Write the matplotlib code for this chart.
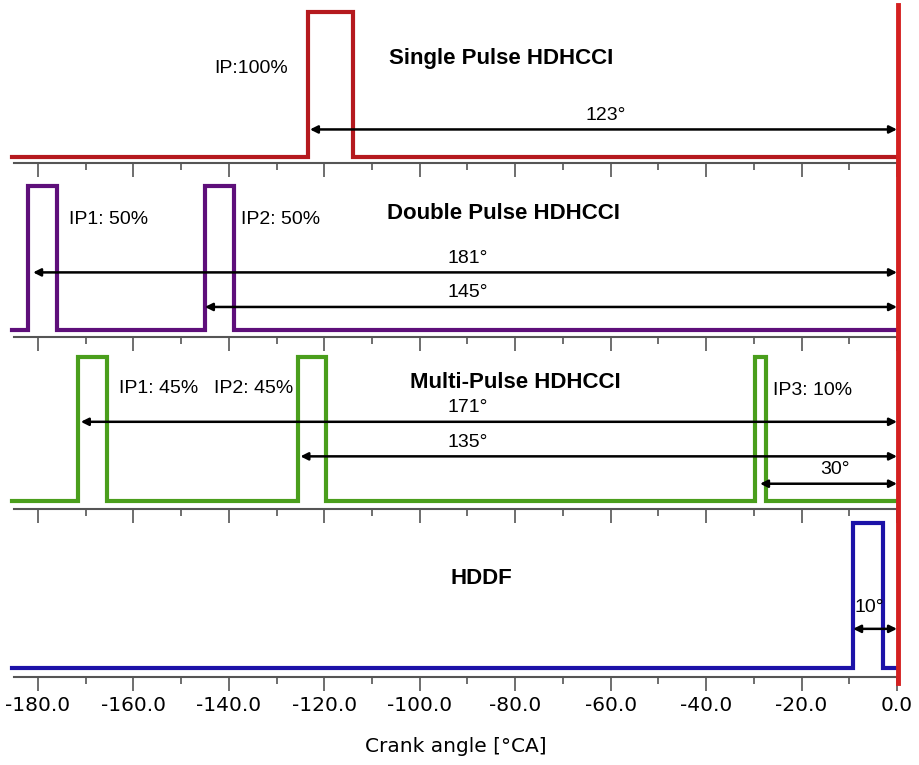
import matplotlib.pyplot as plt
import matplotlib.transforms as mtransforms
from matplotlib.lines import Line2D

# injection pulse timing (crank angle, deg)
single_start = [-123.5]
single_end = [-114.0]
double_start = [-182.0, -145.0]
double_end = [-176.0, -139.0]
multi_start = [-171.5, -125.5, -29.8]
multi_end = [-165.5, -119.7, -27.5]
hddf_start = [-9.2]
hddf_end = [-2.9]

base_from = -185.5
base_to = -0.5

titles = ['Single Pulse HDHCCI', 'Double Pulse HDHCCI', 'Multi-Pulse HDHCCI', 'HDDF']
colors = ['#b5191e', '#5e0f7a', '#4a9e1c', '#1c12a8']

# arrows: start angle, label
single_arrows = [-123.0]
single_labels = ['123°']
double_arrows = [-181.0, -145.0]
double_labels = ['181°', '145°']
multi_arrows = [-171.0, -125.0, -28.7]
multi_labels = ['171°', '135°', '30°']
hddf_arrows = [-9.2]
hddf_labels = ['10°']

ip_labels = [['IP:100%'], ['IP1: 50%', 'IP2: 50%'],
             ['IP1: 45%', 'IP2: 45%', 'IP3: 10%'], []]

xticks = [-180, -160, -140, -120, -100, -80, -60, -40, -20, 0]


def pulse_trace(starts, ends):
    xs = [base_from]
    ys = [0]
    for s, e in zip(starts, ends):
        xs += [s, s, e, e]
        ys += [0, 1, 1, 0]
    xs.append(base_to)
    ys.append(0)
    return xs, ys


W, H = 920, 765
fig = plt.figure(figsize=(W / 100, H / 100), dpi=100)

# pixel layout of each panel: top, axis line, baseline, pulse top
panels = [(0, 163, 157, 12), (163, 337, 330, 186), (337, 509, 501, 357), (509, 677, 668, 523)]
x_left, x_right = 14, 897

starts = [single_start, double_start, multi_start, hddf_start]
ends = [single_end, double_end, multi_end, hddf_end]
arrows = [single_arrows, double_arrows, multi_arrows, hddf_arrows]
arrow_labels = [single_labels, double_labels, multi_labels, hddf_labels]

# per panel text placement (axes-data y, x)
arrow_y = [[0.19], [0.40, 0.16], [0.55, 0.31, 0.12], [0.27]]
arrow_lab_x = [[-61], [-90], [-90, -90, -13], [-5.8]]
arrow_lab_dy = [0.04, 0.04, 0.04, 0.09]
ip_pos = [[(-143, 0.61)], [(-173.5, 0.77), (-137.5, 0.77)],
          [(-163, 0.78), (-143, 0.78), (-26, 0.77)], []]
title_pos = [(-83, 0.68), (-82.5, 0.81), (-80, 0.82), (-87, 0.62)]

axes = []
for i, (top, axis_y, base_y, peak_y) in enumerate(panels):
    ax = fig.add_axes([x_left / W, 1 - axis_y / H, (x_right - x_left) / W, (axis_y - top) / H])
    unit = base_y - peak_y
    ax.set_ylim(-(axis_y - base_y) / unit, 1 + (peak_y - top) / unit)
    ax.set_xlim(-185, 0)

    xs, ys = pulse_trace(starts[i], ends[i])
    ax.plot(xs, ys, color=colors[i], lw=3, solid_joinstyle='miter', clip_on=False)

    for j, (a, lab) in enumerate(zip(arrows[i], arrow_labels[i])):
        y = arrow_y[i][j]
        ax.annotate('', xy=(0, y), xytext=(a, y),
                    arrowprops=dict(arrowstyle='<|-|>', color='black', lw=1.8,
                                    mutation_scale=11, shrinkA=0, shrinkB=0))
        lx = arrow_lab_x[i][0] if len(arrow_lab_x[i]) == 1 else arrow_lab_x[i][j]
        ax.text(lx, y + arrow_lab_dy[i], lab, ha='center', va='bottom', fontsize=14,
                family='Liberation Sans')

    for lab, (px, py) in zip(ip_labels[i], ip_pos[i]):
        ax.text(px, py, lab, ha='left', va='center', fontsize=14, family='Liberation Sans')

    tx, ty = title_pos[i]
    ax.text(tx, ty, titles[i], ha='center', va='center', fontsize=16,
            fontweight='bold', family='Liberation Sans')

    for s in ['top', 'right', 'left']:
        ax.spines[s].set_visible(False)
    ax.spines['bottom'].set_color('#555555')
    ax.spines['bottom'].set_linewidth(1.5)
    ax.set_yticks([])
    ax.set_xticks(xticks)
    ax.set_xticks([t - 10 for t in xticks[1:]], minor=True)
    ax.tick_params(axis='x', which='major', length=10, width=1.2, color='#555555',
                   direction='out')
    ax.tick_params(axis='x', which='minor', length=5, width=1.2, color='#555555',
                   direction='out')
    if i < 3:
        ax.set_xticklabels([])
    else:
        ax.set_xticklabels([f'{t:.1f}' for t in xticks], fontsize=14.5, family='DejaVu Sans')
        ax.set_xlabel('Crank angle [°CA]', fontsize=14.5, family='DejaVu Sans', labelpad=16)
    ax.patch.set_alpha(0)
    axes.append(ax)

# red TDC line across all panels
trans = mtransforms.blended_transform_factory(axes[-1].transData, fig.transFigure)
fig.add_artist(Line2D([0.3, 0.3], [1 - 5 / H, 1 - 683 / H], transform=trans,
                      color='#d42020', lw=3.5))

fig.savefig('out.png', dpi=100)
